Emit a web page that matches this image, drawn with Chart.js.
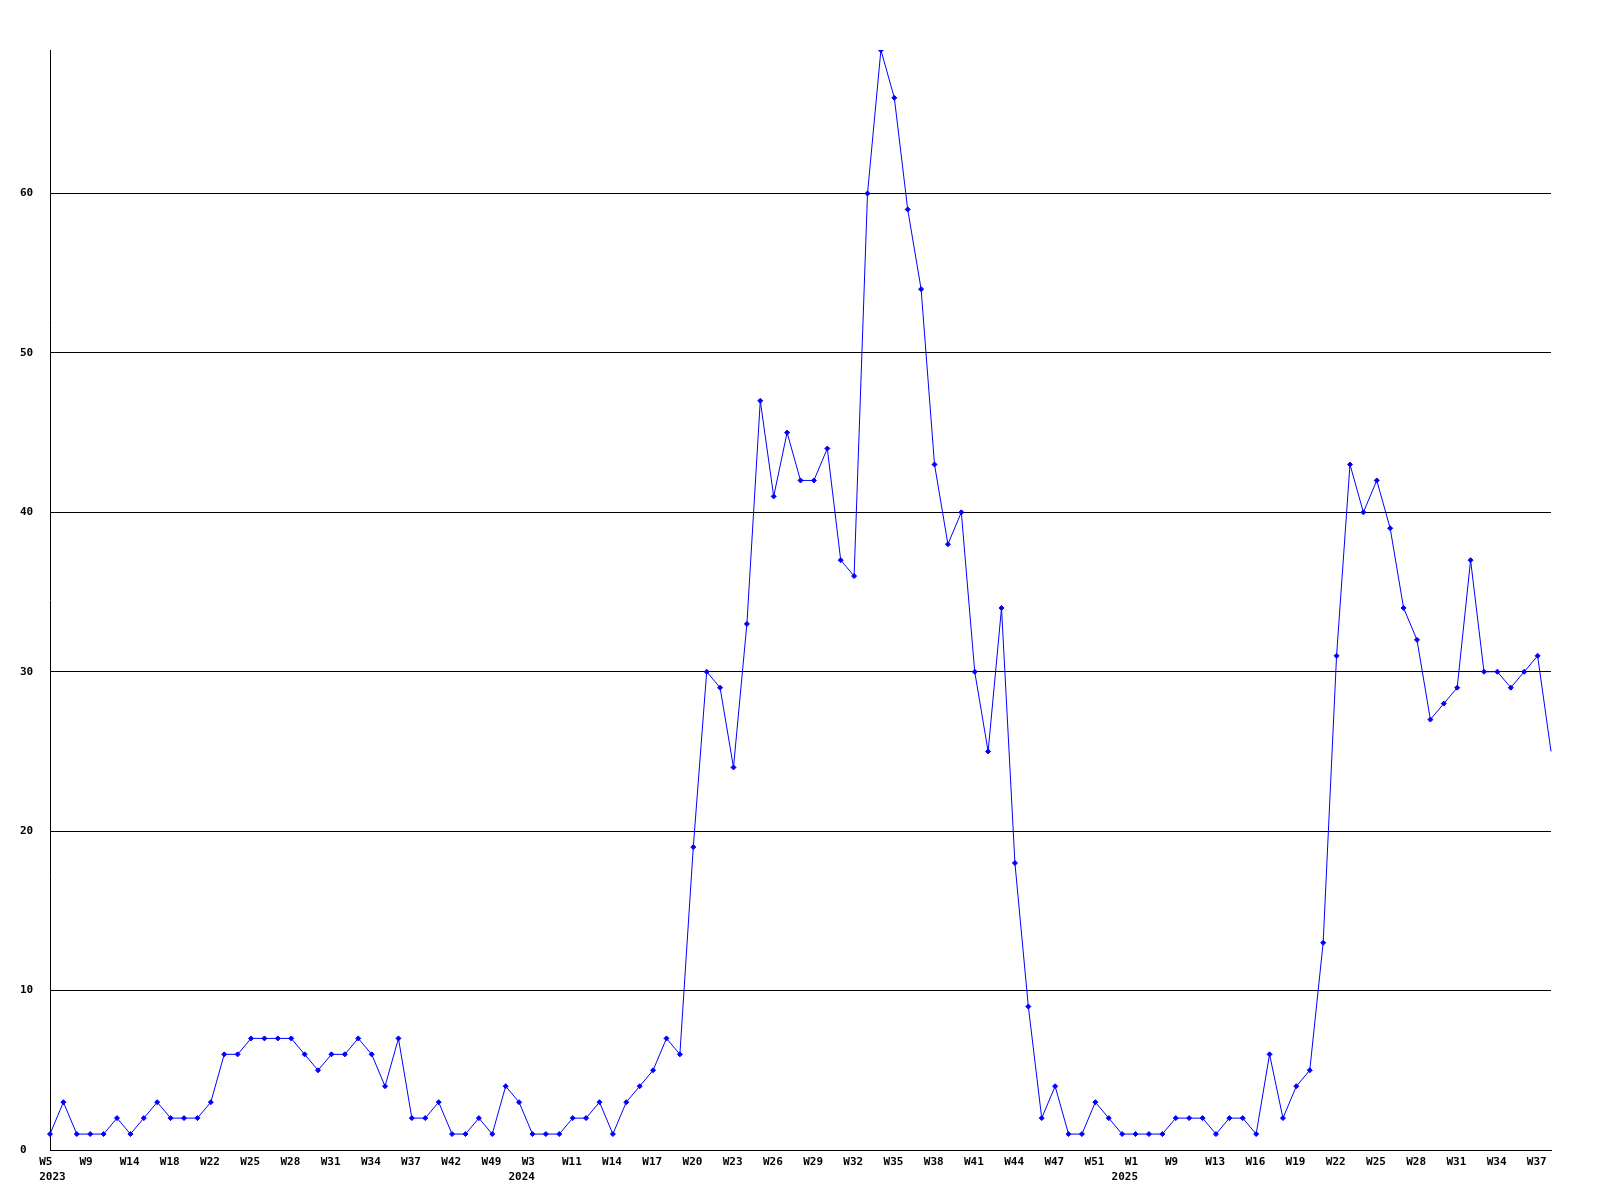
<!DOCTYPE html>
<html>
<head>
<meta charset="utf-8">
<script src="https://cdn.jsdelivr.net/npm/chart.js@4.4.1/dist/chart.umd.min.js"></script>
<style>
  body { margin: 0; background: #fff; }
  canvas { display: block; }
</style>
</head>
<body>
<canvas id="weekChart" width="1600" height="1200"></canvas>
<script>
// one label per data point; only every third one is printed on the axis
const weeks = [
  'W5','W6','W8','W9','W10','W12','W14','W15','W16','W18','W19','W20','W22','W23','W24','W25','W26','W27',
  'W28','W29','W30','W31','W32','W33','W34','W35','W36','W37','W38','W40','W42','W44','W46','W49','W50','W52',
  'W3','W5','W8','W11','W12','W13','W14','W15','W16','W17','W18','W19','W20','W21','W22','W23','W24','W25',
  'W26','W27','W28','W29','W30','W31','W32','W33','W34','W35','W36','W37','W38','W39','W40','W41','W42','W43',
  'W44','W45','W46','W47','W48','W50','W51','W52','W53',
  'W1','W3','W6','W9','W10','W12','W13','W14','W15','W16','W17','W18','W19','W20','W21','W22','W23','W24',
  'W25','W26','W27','W28','W29','W30','W31','W32','W33','W34','W35','W36','W37','W38'
];
const years = ['2023', '2024', '2025'];
const yearStart = [0, 36, 81];

const counts = [
  1,3,1,1,1,2,1,2,3,2, 2,2,3,6,6,7,7,7,7,6, 5,6,6,7,6,4,7,2,2,3,
  1,1,2,1,4,3,1,1,1,2, 2,3,1,3,4,5,7,6,19,30, 29,24,33,47,41,45,42,42,44,37,
  36,60,69,66,59,54,43,38,40,30, 25,34,18,9,2,4,1,1,3,2, 1,1,1,1,2,2,2,1,2,2,
  1,6,2,4,5,13,31,43,40,42, 39,34,32,27,28,29,37,30,30,29, 30,31,25
];

const yMax = 69;
const yStep = 10;

const tickFont = { family: 'DejaVu Sans Mono', size: 11, weight: 'bold', lineHeight: 1.36 };

// labels are left aligned; two leading spaces so later years can sit
// two characters to the left of their week label
function xLabel(i) {
  if (i % 3 !== 0) return '';
  const w = '  ' + weeks[i];
  const y = yearStart.indexOf(i);
  if (y < 0) return w;
  return [w, y === 0 ? '  ' + years[y] : years[y]];
}

const ctx = document.getElementById('weekChart').getContext('2d');
new Chart(ctx, {
  type: 'line',
  data: {
    labels: weeks,
    datasets: [{
      data: counts,
      borderColor: '#0000ff',
      backgroundColor: '#0000ff',
      borderWidth: 1,
      tension: 0,
      pointStyle: 'rectRot',
      pointRadius: c => (c.dataIndex === counts.length - 1 ? 0 : 2.5),
      pointBorderWidth: 1,
      pointHoverRadius: 2.5
    }]
  },
  options: {
    responsive: false,
    animation: false,
    layout: { padding: { left: 20, top: 50, right: 49, bottom: 0 } },
    plugins: { legend: { display: false }, tooltip: { enabled: false } },
    scales: {
      x: {
        offset: false,
        grid: { display: false, drawTicks: false },
        border: { display: true, color: '#000', width: 1 },
        afterFit: s => { s.height = 50; },
        ticks: {
          autoSkip: false,
          maxRotation: 0,
          minRotation: 0,
          align: 'start',
          padding: 5,
          labelOffset: -24,
          color: '#000',
          font: tickFont,
          callback: (v, i) => xLabel(i)
        }
      },
      y: {
        min: 0,
        max: yMax,
        afterFit: s => { s.width = 30; },
        grid: { color: '#000', lineWidth: 1, drawTicks: false },
        border: { display: true, color: '#000', width: 1 },
        ticks: {
          stepSize: yStep,
          includeBounds: false,
          crossAlign: 'far',
          padding: 0,
          color: '#000',
          font: tickFont
        }
      }
    }
  }
});
</script>
</body>
</html>
